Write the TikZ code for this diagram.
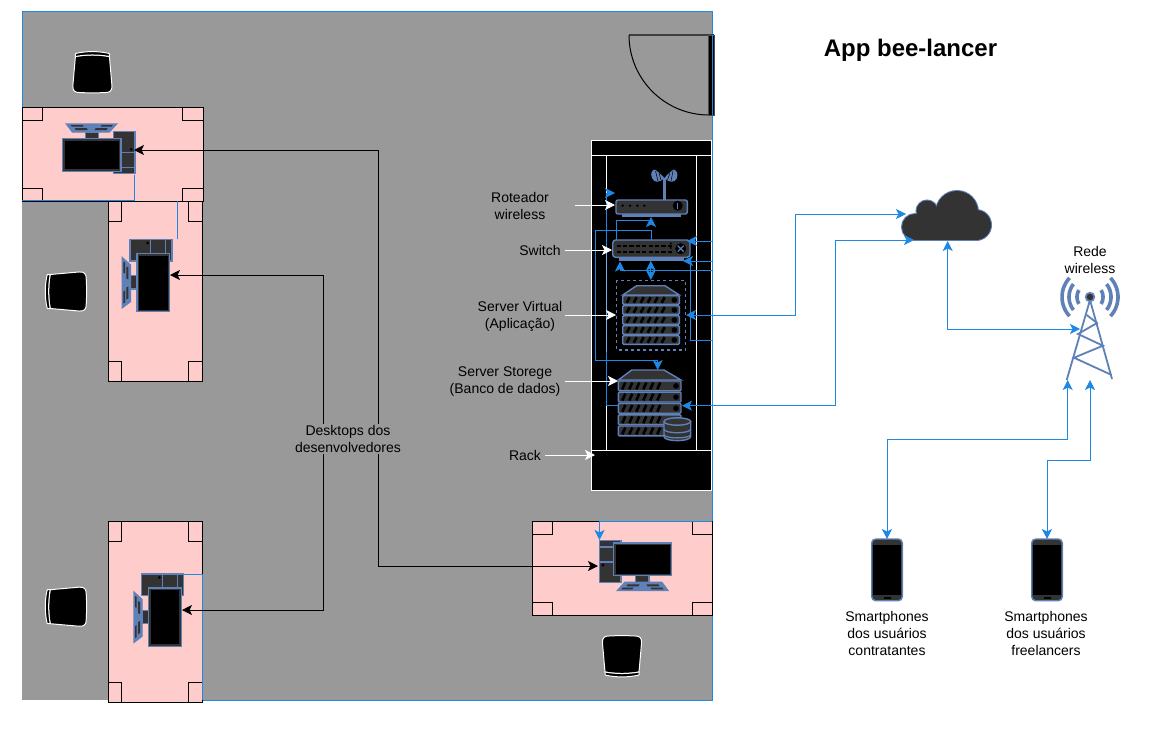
\documentclass[tikz,border=0pt]{standalone}
\usepackage{fontspec}
\setmainfont{Liberation Sans}
\usetikzlibrary{arrows.meta}
\definecolor{roomgray}{HTML}{999999}
\definecolor{deskpink}{HTML}{FFCCCC}
\definecolor{linkblue}{HTML}{1E88E5}
\definecolor{iconblue}{HTML}{6080B8}
\definecolor{icondark}{HTML}{333333}
\tikzset{
  txt/.style={inner sep=0pt,align=center,text=black,font=\fontsize{14}{17}\selectfont},
  desk/.style={draw=black,fill=deskpink,line width=1pt,inner sep=0pt,rectangle},
  leg/.style={draw=black,line width=1pt,fill=none},
  icon/.style={draw=iconblue,fill=icondark,line width=1.4pt},
  chairst/.style={draw=white,fill=black,line width=1pt,rounded corners=0.5pt},
  link/.style={draw=linkblue,line width=1pt,-{Stealth[length=10pt,width=10pt,inset=2.5pt]}},
  linkb/.style={draw=linkblue,line width=1pt,{Stealth[length=10pt,width=10pt,inset=2.5pt]}-{Stealth[length=10pt,width=10pt,inset=2.5pt]}},
  linkn/.style={draw=linkblue,line width=1pt},
  blk/.style={draw=black,line width=1pt,-{Stealth[length=10pt,width=10pt,inset=2.5pt]}},
  wht/.style={draw=white,line width=1pt,-{Stealth[length=10pt,width=10pt,inset=2.5pt]}},
  rackline/.style={draw=white,line width=1pt}
}
\newcommand{\chairat}[3]{%
  \begin{scope}[shift={(#1,#2)},rotate=#3]
    \draw[chairst] (-17,-15.5) .. controls (-6,-17.5) and (6,-17.5) .. (17,-15.5) -- (19.5,13) .. controls (20,19) and (17,20.5) .. (13,20.5) .. controls (5,21) and (-5,21) .. (-13,20.5) .. controls (-17,20.5) and (-20,19) .. (-19.5,13) -- cycle;
    \draw[chairst] (-17,-18.5) .. controls (-6,-21) and (6,-21) .. (17,-18.5) -- (17,-15.5) .. controls (6,-17.5) and (-6,-17.5) .. (-17,-15.5) -- cycle;
  \end{scope}}
\newcommand{\pcat}[3]{%
  \begin{scope}[shift={(#1,#2)},rotate=#3]
    \draw[icon] (-43.2,-18.6) rectangle (-21.5,23.4);
    \draw[iconblue,line width=1.3pt] (-43.2,-12.3) -- (-21.5,-12.3) (-43.2,2.7) -- (-21.5,2.7);
    \fill[black] (-39.5,5.7) circle (1.5);
    \draw[icon] (-6.8,16.3) rectangle (6.5,23);
    \draw[icon,fill=iconblue] (-17.5,23) -- (19.2,23) -- (25.2,31) -- (-24.8,31) -- cycle;
    \fill[icondark] (-15,25) -- (-3,25) -- (-4,27) -- (-16,27) -- cycle;
    \fill[icondark] (4,25) -- (16,25) -- (17,27) -- (5,27) -- cycle;
    \fill[icondark] (-20,28.3) -- (-9,28.3) -- (-10,30) -- (-21,30) -- cycle;
    \fill[icondark] (8,28.3) -- (20,28.3) -- (21,30) -- (9,30) -- cycle;
    \draw[icon] (-29.2,-16.3) rectangle (29.2,16.3);
    \fill[black] (-27,-14.2) rectangle (27,14.2);
  \end{scope}}
\newcommand{\corners}[6]{% x1 y1 x2 y2 w h
  \draw[leg] (#1,#2) rectangle ++(#5,#6);
  \draw[leg] (#3,#2) rectangle ++(-#5,#6);
  \draw[leg] (#1,#4) rectangle ++(#5,-#6);
  \draw[leg] (#3,#4) rectangle ++(-#5,-#6);}
\newcommand{\srvunit}[4]{% x1 x2 y h
  \draw[icon,rounded corners=1pt] (#1,#3) rectangle (#2,#3+#4);
  \foreach \k in {0,...,5}{\draw[black,line width=2.6pt] ({#1+4+\k*7},{#3+#4-1.5}) -- ({#1+7+\k*7},{#3+1.5});}
  \fill[black] ({#2-5},{#3+#4/2}) circle (2.8);}
\newcommand{\phoneat}[1]{%
  \draw[icon,rounded corners=4pt] (#1-15.3,539) rectangle (#1+15.3,600.7);
  \fill[black] (#1-14.4,545) rectangle (#1+14.4,595);
  \fill[black] (#1-3.5,597.3) rectangle (#1+3.5,598.5);}
\begin{document}
\begin{tikzpicture}[x=1pt,y=-1pt]
\useasboundingbox (0,0) rectangle (1151,734);
\fill[white] (0,0) rectangle (1151,734);
% room
\fill[roomgray] (22,11) rectangle (712,700);
\draw[linkn] (22,200) -- (22,11) -- (712,11) -- (712,700) -- (202,700);
% door
\draw[draw=black!75,line width=1.5pt] (629,35) -- (714,35);
\draw[black,line width=1pt] (629,35) .. controls (629,79.2) and (664.8,115) .. (709,115);
\draw[draw=black!70,fill=black,line width=1pt] (708.5,35) rectangle (714.3,115.5);
\draw[linkn] (712,35) -- (712,115);
% desks
\node[desk,minimum width=181pt,minimum height=94pt] (deskA) at (112.5,154) {};
\corners{22}{107}{203}{201}{20.5}{13}
\node[desk,minimum width=94pt,minimum height=180pt] (deskB) at (155,291) {};
\corners{108}{201}{202}{381}{13.5}{20}
\node[desk,minimum width=94pt,minimum height=181pt] (deskC) at (155,611.5) {};
\corners{108}{521}{202}{702}{13.5}{20}
\node[desk,minimum width=180pt,minimum height=94pt] (deskD) at (622,568) {};
\corners{532}{521}{712}{615}{20}{13}
% desk wiring
\coordinate (pcAwire) at (134,175);
\coordinate (pcBwire) at (177.5,239);
\coordinate (pcCwire) at (184,574);
\coordinate (wallA) at (22,200);
\coordinate (wallB) at (177.5,201);
\coordinate (wallC) at (202,700);
\coordinate (wallD) at (599.5,521);
\coordinate (pcDtop) at (599.5,540);
\draw[linkn] (pcAwire) |- (wallA);
\draw[linkn] (pcBwire) -- (wallB);
\draw[linkn] (pcCwire) -| (wallC);
\draw[link] (wallD) -- (pcDtop);
\draw[linkn] (599.5,521) -- (712,521);
\pcat{91.7}{155}{180}
\pcat{153.3}{282.5}{-90}
\pcat{165}{617}{-90}
\pcat{642.5}{559.3}{0}
% chairs
\chairat{92.4}{72}{0}
\chairat{65.7}{291.5}{90}
\chairat{65.7}{606.7}{90}
\chairat{622}{656.5}{180}
% rack
\draw[rackline,fill=black] (591.7,140.7) rectangle (711,490);
\draw[rackline] (591.7,155) -- (711,155);
\draw[rackline] (591.7,450.3) -- (711,450.3);
\draw[rackline] (606.3,155) -- (606.3,450.3);
\draw[rackline] (696.7,155) -- (696.7,450.3);
% router
\fill[iconblue] (662.9,178) rectangle (665.9,200);
\fill[iconblue] (664.4,178) .. controls (660,183) and (654,183) .. (652,178) .. controls (650,173) and (652,170) .. (655,169.5) .. controls (658,172) and (662,175) .. cycle;
\fill[iconblue] (664.4,178) .. controls (669,183) and (675,183) .. (677,178) .. controls (678.5,173) and (676,170) .. (673.5,169.5) .. controls (670,172) and (667,175) .. cycle;
\draw[black,line width=.5pt] (655.5,171) -- (658,181) (659,173) -- (661,180) (673,171) -- (671,181) (670,173) -- (667.5,180);
\draw[icon,fill=iconblue] (622.7,214) rectangle (680.7,216.7);
\draw[icon,rounded corners=2pt] (616,200) rectangle (687.3,214);
\foreach \px in {622.7,630,637.3,644.3}{\fill[black] (\px,205.7) circle (1.3);}
\fill[black] (677.7,205.7) circle (5);
\draw[iconblue,line width=1.2pt] (677.7,202.8) -- (677.7,208.6);
% switch
\draw[icon,fill=iconblue] (620,257.3) rectangle (683.3,260);
\draw[icon,rounded corners=3pt] (612.7,240) rectangle (690,257.3);
\foreach \k in {0,...,8}{
  \fill[black] ({616.5+\k*6.4},244.8) rectangle ({620.8+\k*6.4},247.2);
  \fill[black] ({616.5+\k*6.4},250.6) rectangle ({620.8+\k*6.4},252.9);}
\foreach \py in {243.5,248,252.5}{\fill[black] (670.7,\py) circle (1.2);}
\fill[black] (680.7,248.7) circle (5.5);
\draw[iconblue,line width=1.1pt] (677.7,245.7) -- (683.7,251.7) (677.7,251.7) -- (683.7,245.7);
% virtual server
\draw[iconblue,line width=1.1pt,dashed] (616.7,280.3) rectangle (685.7,350);
\draw[icon] (622.7,295) -- (636.7,285.7) -- (665,285.7) -- (679.3,295) -- cycle;
\foreach \uy in {295.7,305.7,315.7,325.7,335.7}{\srvunit{622.7}{679.3}{\uy}{8.6}}
% storage server
\draw[icon] (618.3,380) -- (631.7,370) -- (664,370) -- (681,380) -- cycle;
\foreach \uy in {381,392.2,403.4,414.8,426}{\srvunit{618.3}{681}{\uy}{9.8}}
% database
\draw[icon] (664,422) -- (664,436.5) .. controls (664,442) and (690.7,442) .. (690.7,436.5) -- (690.7,422) -- cycle;
\draw[icon] (677.35,421.5) ellipse (13.35 and 3.7);
\draw[iconblue,line width=1.3pt] (664,429) .. controls (664,434) and (690.7,434) .. (690.7,429);
\draw[iconblue,line width=1.3pt] (664,434.5) .. controls (664,439) and (690.7,439) .. (690.7,434.5);
% rack links
\coordinate (stoL) at (618.3,405.7);
\coordinate (rtrL) at (615,193);
\coordinate (busL) at (606,300);
\coordinate (swTop) at (651.7,240);
\coordinate (stoTop) at (657.7,370);
\coordinate (swTopL) at (616.7,240);
\coordinate (rtrB) at (651,217);
\coordinate (swB) at (620,261.5);
\coordinate (swBv) at (650.8,260.7);
\coordinate (vmTop) at (650.8,280);
\coordinate (swR) at (687,241);
\coordinate (swR2) at (683,261);
\coordinate (edgeA) at (712,241);
\coordinate (edgeB) at (712,261);
\coordinate (edgeC) at (712,270);
\coordinate (edgeD) at (712,340);
\coordinate (bend) at (690,261);
\draw[link] (stoL) -| (busL) |- (rtrL);
\draw[link] (swTop) |- (595.7,230) |- (657.7,360.7) -- (stoTop);
\draw[link] (swTopL) |- (651,220) -- (rtrB);
\draw[link] (edgeC) -| (swB);
\draw[linkb] (swBv) -- (vmTop);
\draw[link] (edgeA) -- (swR);
\draw[linkn] (edgeB) -- (bend);
\draw[link] (edgeD) -| (bend) -- (swR2);
% cloud
\begin{scope}
\foreach \ci/\cj/\cr in {915/227/13,927/211/10.5,957/212/21,976/225/15}{\draw[iconblue,line width=2pt] (\ci,\cj) circle (\cr);}
\draw[iconblue,line width=2pt] (915,240) -- (976,240);
\foreach \ci/\cj/\cr in {915/227/13,927/211/10.5,957/212/21,976/225/15}{\fill[icondark] (\ci,\cj) circle (\cr);}
\fill[icondark] (915,214) rectangle (976,240);
\end{scope}
% tower
\begin{scope}[shift={(1090,297)}]
\foreach \wr/\wa in {13/32,21/38,28/43}{
  \draw[iconblue,line width=3.6pt] plot[domain=-\wa:\wa,samples=14,smooth] ({\wr*cos(\x)},{\wr*sin(\x)});
  \draw[iconblue,line width=3.6pt] plot[domain=-\wa:\wa,samples=14,smooth] ({-\wr*cos(\x)},{\wr*sin(\x)});}
\end{scope}
\draw[iconblue,line width=1.8pt] (1066.7,380) -- (1090,300) -- (1112,379);
\draw[iconblue,line width=1.8pt] (1086.7,315) -- (1097,323) -- (1078,334) -- (1103,345.7) -- (1074,357.7) -- (1111.7,375);
\fill[iconblue] (1090,297) circle (5.2);
\fill[icondark] (1090,297) circle (3.2);
% phones
\phoneat{887}
\phoneat{1047}
% external links
\coordinate (srvVr) at (686,315);
\coordinate (srvSr) at (682,405.7);
\coordinate (clA) at (906,214);
\coordinate (clB) at (914,240);
\coordinate (clC) at (947.7,241);
\coordinate (twC) at (1080,329);
\coordinate (bendA) at (795,260);
\coordinate (bendB) at (835,320);
\coordinate (twA) at (1067.7,380);
\coordinate (twB) at (1090,380);
\coordinate (phA) at (887,539);
\coordinate (phB) at (1047,539);
\draw[linkb] (srvVr) -| (bendA) |- (clA);
\draw[linkb] (srvSr) -| (bendB) |- (clB);
\draw[linkb] (clC) |- (twC);
\draw[linkb] (phA) |- (1067.7,439) -- (twA);
\draw[linkb] (phB) |- (1090,460) -- (twB);
% desktop links
\coordinate (pcAd) at (134,150);
\coordinate (pcBd) at (170,275);
\coordinate (pcCd) at (182,610);
\coordinate (pcDd) at (598,566);
\coordinate (hubL) at (323,440);
\coordinate (hubR) at (378,440);
\draw[blk] (hubR) |- (pcAd);
\draw[blk] (hubR) |- (pcDd);
\draw[blk] (hubL) |- (pcBd);
\draw[blk] (hubL) |- (pcCd);
% pointers
\coordinate (tRot) at (575,205);  \coordinate (hRot) at (615,205);
\coordinate (tSw) at (565,250);   \coordinate (hSw) at (612,250);
\coordinate (tVm) at (565,315);   \coordinate (hVm) at (616,315);
\coordinate (tSt) at (565,381);   \coordinate (hSt) at (618,381);
\coordinate (tRk) at (545,455);   \coordinate (hRk) at (595,455);
\draw[wht] (tRot) -- (hRot);
\draw[wht] (tSw) -- (hSw);
\draw[wht] (tVm) -- (hVm);
\draw[wht] (tSt) -- (hSt);
\draw[wht] (tRk) -- (hRk);
% labels
\node[txt,fill=roomgray,inner sep=1pt] (lDesk) at (348,439) {Desktops dos\\desenvolvedores};
\node[txt] (lRot) at (520,205.5) {Roteador\\wireless};
\node[txt] (lSw) at (540,250) {Switch};
\node[txt] (lVm) at (520,316) {Server Virtual\\(Aplicação)};
\node[txt] (lSt) at (505,381.5) {Server Storege\\(Banco de dados)};
\node[txt] (lRk) at (525,455) {Rack};
\node[txt] (lRede) at (1090,260) {Rede\\wireless};
\node[txt] (lPhA) at (887,633) {Smartphones\\dos usuários\\contratantes};
\node[txt] (lPhB) at (1046,633) {Smartphones\\dos usuários\\freelancers};
\node[inner sep=0pt,text=black,font=\fontsize{24}{28}\selectfont\bfseries] (title) at (910.5,50) {App bee-lancer};
\end{tikzpicture}
\end{document}
